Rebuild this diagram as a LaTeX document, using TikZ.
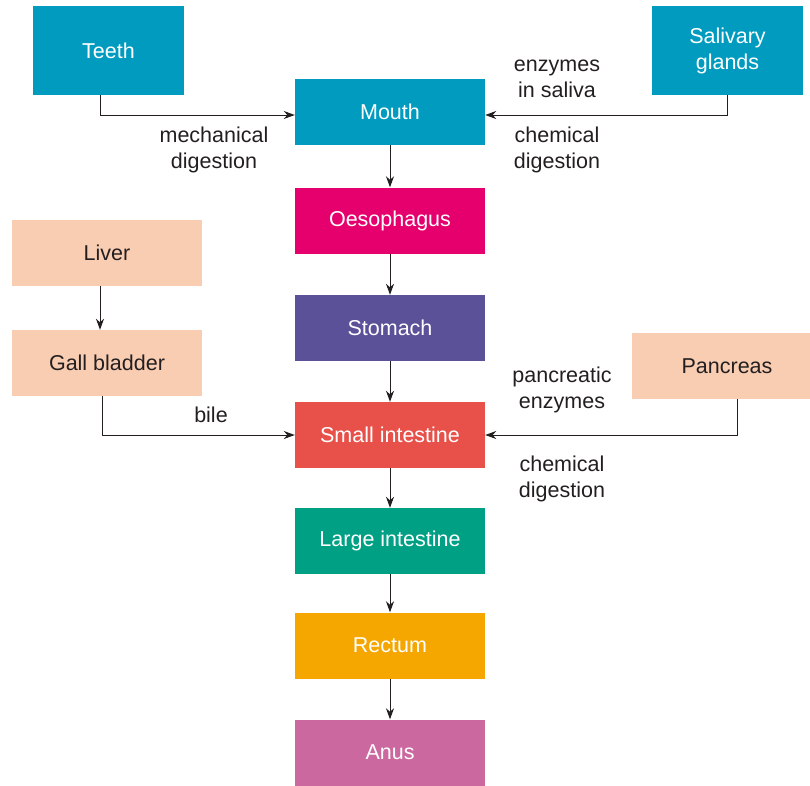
\documentclass[tikz,border=0pt]{standalone}
\usepackage{fontspec}
\setmainfont{Liberation Sans}
\usetikzlibrary{arrows.meta}
\definecolor{teal}{RGB}{0,155,191}
\definecolor{magenta}{RGB}{229,0,109}
\definecolor{violet}{RGB}{91,81,153}
\definecolor{coral}{RGB}{232,80,74}
\definecolor{green}{RGB}{0,160,133}
\definecolor{amber}{RGB}{245,167,0}
\definecolor{orchid}{RGB}{204,104,160}
\definecolor{peach}{RGB}{249,205,178}
\definecolor{ink}{RGB}{35,31,32}
\begin{document}
\begin{tikzpicture}[x=1pt,y=-1pt,
  organ/.style={inner sep=0pt,align=center,text=white,
    font=\fontsize{21.5}{26}\selectfont},
  gut/.style={organ,fill=#1,minimum width=190pt,minimum height=66pt},
  gland/.style={inner sep=0pt,align=center,text=ink,fill=peach,
    minimum width=190pt,minimum height=66pt,
    font=\fontsize{21.5}{26}\selectfont},
  tag/.style={inner sep=0pt,align=center,text=ink,
    font=\fontsize{21.5}{26}\selectfont},
  arr/.style={draw=ink,line width=1pt,-{Stealth[length=11pt,width=8pt,inset=3.5pt]}}]
\useasboundingbox (0,0) rectangle (810,785);

% digestive tract
\node[gut=teal]    (mouth) at (390,112)   {Mouth};
\node[gut=magenta] (oeso)  at (390,220.5) {Oesophagus};
\node[gut=violet]  (stom)  at (390,328)   {Stomach};
\node[gut=coral]   (small) at (390,435)   {Small intestine};
\node[gut=green]   (large) at (390,541)   {Large intestine};
\node[gut=amber]   (rect)  at (390,645.5) {Rectum};
\node[gut=orchid]  (anus)  at (390,752.5) {Anus};

% accessory organs
\node[organ,fill=teal,minimum width=151pt,minimum height=89pt] (teeth) at (108.5,50.5) {Teeth};
\node[organ,fill=teal,minimum width=151pt,minimum height=89pt] (saliv) at (727.5,50.5) {Salivary\\glands};
\node[gland] (liver) at (107,253) {Liver};
\node[gland] (gall)  at (107,363) {Gall bladder};
\node[gland] (panc)  at (727,366) {Pancreas};

% labels
\node[tag] (mech)  at (214,150) {mechanical\\digestion};
\node[tag] (enz)   at (557,79)  {enzymes\\in saliva};
\node[tag] (chem1) at (557,150) {chemical\\digestion};
\node[tag] (bile)  at (211,415) {bile};
\node[tag] (penz)  at (562,390) {pancreatic\\enzymes};
\node[tag] (chem2) at (562,479) {chemical\\digestion};

% main passage
\draw[arr] (mouth) -- (oeso);
\draw[arr] (oeso) -- (stom);
\draw[arr] (stom) -- (small);
\draw[arr] (small) -- (large);
\draw[arr] (large) -- (rect);
\draw[arr] (rect) -- (anus);

% side inputs
\draw[arr] ([xshift=-8.5pt]teeth.south) |- ([yshift=-3pt]mouth.west);
\draw[arr] (saliv.south) |- ([yshift=-3pt]mouth.east);
\draw[arr] ([xshift=-7pt]liver.south) -- ([xshift=-7pt]gall.north);
\draw[arr] ([xshift=-5pt]gall.south) |- (small.west);
\draw[arr] ([xshift=10pt]panc.south) |- (small.east);
\end{tikzpicture}
\end{document}
